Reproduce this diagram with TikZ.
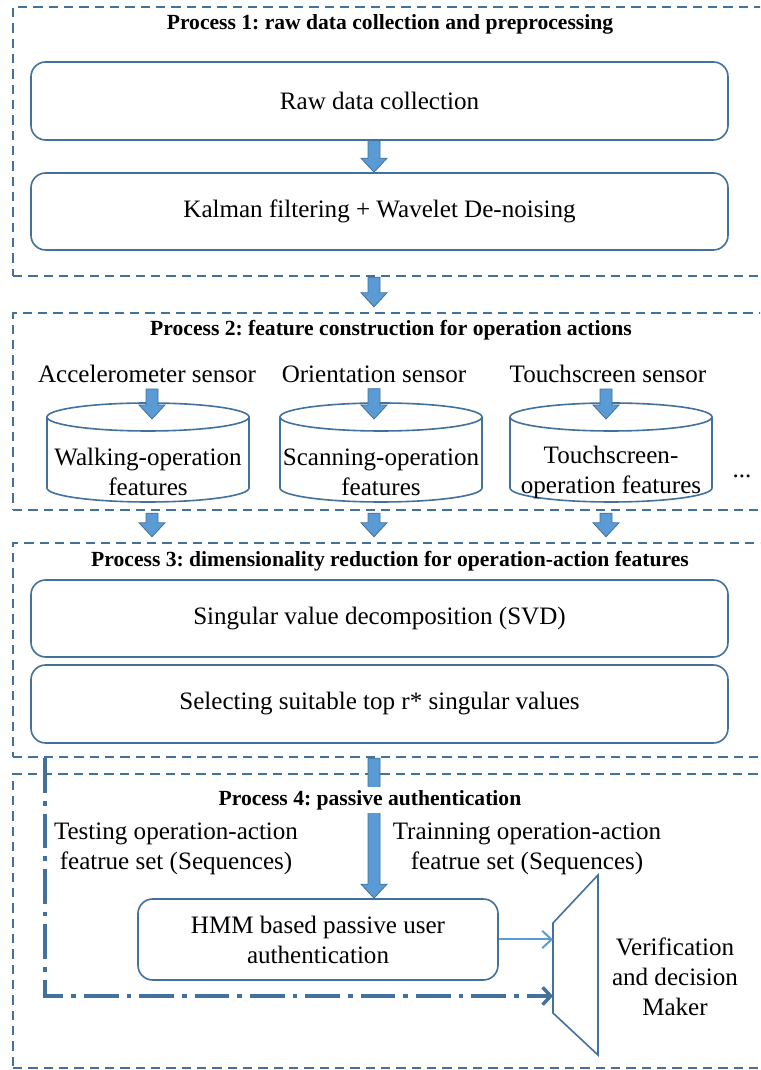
\documentclass[tikz,border=0pt]{standalone}
\usepackage{fontspec}
\setmainfont{Liberation Serif}
\usetikzlibrary{calc,arrows.meta}
\definecolor{frame}{HTML}{41719C}
\definecolor{arrfill}{HTML}{5B9BD5}
\frenchspacing

\begin{document}
\begin{tikzpicture}[x=0.75pt,y=0.75pt,
  every node/.style={font=\fontsize{18.8}{22.5}\selectfont, inner sep=0pt, align=center},
  ptitle/.style={font=\bfseries\fontsize{16.2}{19}\selectfont},
  group/.style={draw=frame, line width=1.8pt, dash pattern=on 7pt off 4.5pt, rectangle},
  rbox/.style={draw=frame, line width=1.2pt, rounded corners=11pt, fill=white, rectangle},
  cylline/.style={draw=frame, line width=1.2pt},
  barrow/.style={draw=frame, fill=arrfill, line width=0.6pt, line join=miter,
    to path={let \p1=(\tikztostart), \p2=(\tikztotarget) in
      (\x1-4.5pt,\y1) -- (\x1+4.5pt,\y1) -- (\x1+4.5pt,\y2+10.5pt) -- (\x1+9.75pt,\y2+10.5pt)
      -- (\x1,\y2) -- (\x1-9.75pt,\y2+10.5pt) -- (\x1-4.5pt,\y2+10.5pt) -- cycle}},
  thinarrow/.style={draw=arrfill, line width=1.5pt, -{Straight Barb[length=7pt,width=13pt]}},
  dashdotarrow/.style={draw=frame, line width=2.8pt, dash pattern=on 26pt off 6pt on 3.5pt off 6pt,
    -{Straight Barb[length=6pt,width=13pt,line width=2.6pt]}}
]
\useasboundingbox (0,0) rectangle (760,1070);
\clip (0,0) rectangle (760,1070);

% arrow columns
\coordinate (ax) at (374,0);
\coordinate (k1) at (152,0);
\coordinate (k2) at (374,0);
\coordinate (k3) at (606,0);
\coordinate (ddx) at (45,0);

% process frames
\node[group, minimum width={762*0.75pt}, minimum height={269*0.75pt}] (p1) at (394,928.5) {};
\node[group, minimum width={762*0.75pt}, minimum height={197*0.75pt}] (p2) at (394,658.5) {};
\node[group, minimum width={762*0.75pt}, minimum height={214*0.75pt}] (p3) at (394,420) {};
\node[group, minimum width={762*0.75pt}, minimum height={294*0.75pt}] (p4) at (394,149) {};

% Process 1
\node[ptitle] (t1) at (390,1046) {Process 1: raw data collection and preprocessing};
\node[rbox, minimum width={697*0.75pt}, minimum height={78*0.75pt}] (raw) at (379.5,969) {Raw data collection};
\node[rbox, minimum width={697*0.75pt}, minimum height={77*0.75pt}] (kal) at (379.5,858.5) {Kalman filtering + Wavelet De-noising};
\draw[barrow] (raw.south -| ax) to (kal.north -| ax);
\draw[barrow] (p1.south -| ax) to ($(p2.north -| ax)+(0,5)$);

% Process 2
\node[ptitle] (t2) at (391,740) {Process 2: feature construction for operation actions};
\node (s1) at (147,696) {Accelerometer sensor};
\node (s2) at (374,696) {Orientation sensor};
\node (s3) at (608,696) {Touchscreen sensor};

\foreach \n/\cx in {c1/148, c2/381, c3/611}{
  \draw[cylline, fill=white] (\cx-101,653) -- (\cx-101,582)
    arc[start angle=180, end angle=360, x radius=101, y radius=14] -- (\cx+101,653);
  \draw[cylline] (\cx,653) ellipse [x radius=101, y radius=14];
  \coordinate (\n top) at (\cx,653);
}
\node (c1) at (148,598) {Walking-operation\\features};
\node (c2) at (381,598) {Scanning-operation\\features};
\node (c3) at (611,598) {Touchscreen-\\operation features};
\node (more) at (742,594) {...};

\draw[barrow] ($(s1.south -| k1)+(0,-6)$) to ($(c1top -| k1)+(0,-2)$);
\draw[barrow] ($(s2.south -| k2)+(0,-6)$) to ($(c2top -| k2)+(0,-2)$);
\draw[barrow] ($(s3.south -| k3)+(0,-6)$) to ($(c3top -| k3)+(0,-2)$);

\draw[barrow] ($(p2.south -| k1)+(0,-2)$) to ($(p3.north -| k1)+(0,5)$);
\draw[barrow] ($(p2.south -| k2)+(0,-2)$) to ($(p3.north -| k2)+(0,5)$);
\draw[barrow] ($(p2.south -| k3)+(0,-2)$) to ($(p3.north -| k3)+(0,5)$);

% Process 3
\node[ptitle] (t3) at (390,509) {Process 3: dimensionality reduction for operation-action features};
\node[rbox, minimum width={697*0.75pt}, minimum height={77*0.75pt}] (svd) at (379.5,451.5) {Singular value decomposition (SVD)};
\node[rbox, minimum width={697*0.75pt}, minimum height={78*0.75pt}] (sel) at (379.5,366) {Selecting suitable top r* singular values};

% Process 4
\node[rbox, minimum width={360*0.75pt}, minimum height={81*0.75pt}] (hmm) at (318,130.5) {HMM based passive user\\authentication};
\draw[barrow] (p3.south -| ax) to (hmm.north -| ax);
\node[ptitle, fill=white, inner sep=2.5pt] (t4) at (370,270) {Process 4: passive authentication};

\node (test) at (176,221) {Testing operation-action\\featrue set (Sequences)};
\node (train) at (527,221) {Trainning operation-action\\featrue set (Sequences)};

% verification and decision maker
\coordinate (tz1) at (553,147);
\coordinate (tz2) at (598,195);
\coordinate (tz3) at (598,15);
\coordinate (tz4) at (553,57);
\draw[draw=frame, line width=1.2pt, line join=miter] (tz1) -- (tz2) -- (tz3) -- (tz4) -- cycle;
\node (dec) at (675,93) {Verification\\and decision\\Maker};

\coordinate (hin) at (553,74);
\draw[thinarrow] (hmm.east) -- (hmm.east -| tz1);
\draw[dashdotarrow] (p3.south -| ddx) |- (hin);
\end{tikzpicture}
\end{document}
